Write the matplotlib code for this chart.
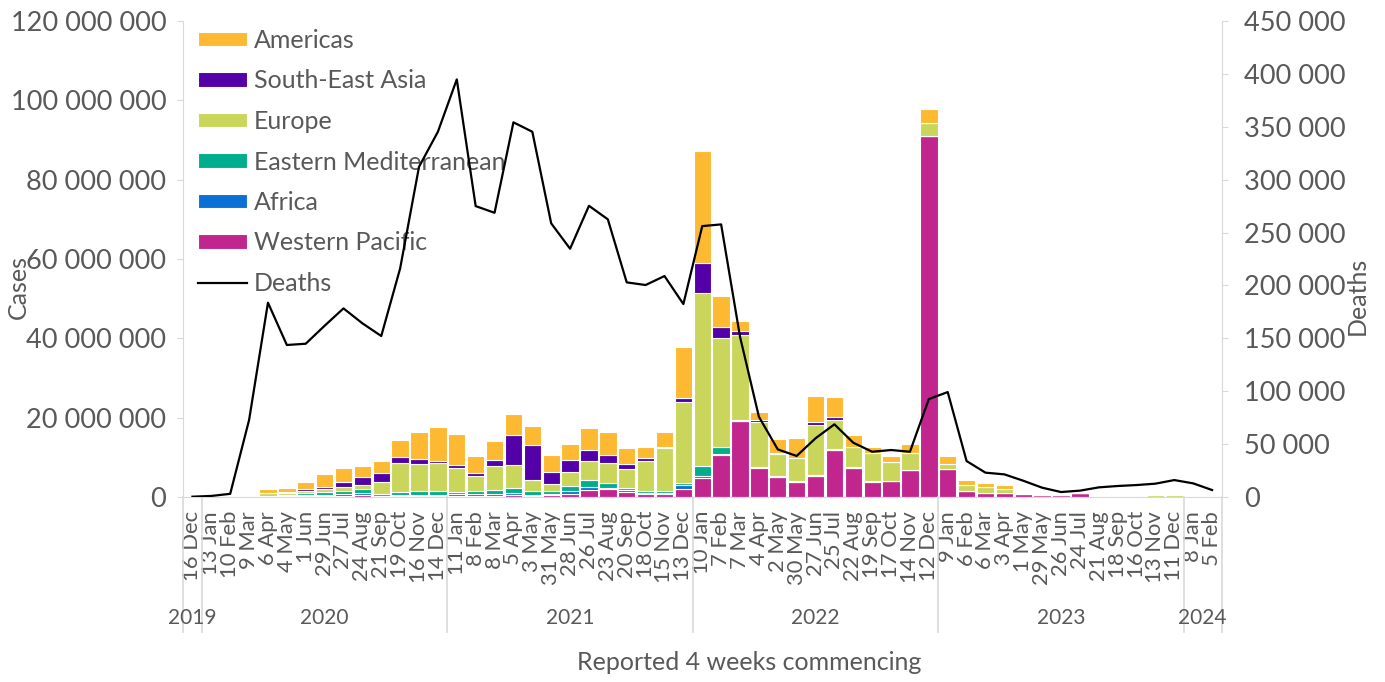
import matplotlib
matplotlib.use('Agg')
import matplotlib.pyplot as plt
import matplotlib.transforms as mtransforms
from matplotlib.lines import Line2D
import numpy as np

plt.rcParams['font.family'] = ['Lato', 'DejaVu Sans']

# 4-week periods, first level of the category axis
labels = ['16 Dec',
          '13 Jan', '10 Feb', '9 Mar', '6 Apr', '4 May', '1 Jun', '29 Jun', '27 Jul',
          '24 Aug', '21 Sep', '19 Oct', '16 Nov', '14 Dec',
          '11 Jan', '8 Feb', '8 Mar', '5 Apr', '3 May', '31 May', '28 Jun', '26 Jul',
          '23 Aug', '20 Sep', '18 Oct', '15 Nov', '13 Dec',
          '10 Jan', '7 Feb', '7 Mar', '4 Apr', '2 May', '30 May', '27 Jun', '25 Jul',
          '22 Aug', '19 Sep', '17 Oct', '14 Nov', '12 Dec',
          '9 Jan', '6 Feb', '6 Mar', '3 Apr', '1 May', '29 May', '26 Jun', '24 Jul',
          '21 Aug', '18 Sep', '16 Oct', '13 Nov', '11 Dec',
          '8 Jan', '5 Feb']
years = ['2019', '2020', '2021', '2022', '2023', '2024']
year_sizes = [1, 13, 13, 13, 13, 2]

# cases per region, millions
americas = [0, 0, 0, 0.02, 0.9, 1.0, 1.85, 3.1, 3.4, 2.85, 2.95, 4.3, 6.9, 8.5,
            7.8, 4.2, 4.7, 5.4, 4.6, 4.4, 4.0, 5.5, 5.8, 4.0, 2.6, 3.65, 12.7,
            28.25, 7.65, 2.6, 2.1, 3.65, 5.05, 6.55, 5.0, 2.9, 1.55, 1.45, 2.35, 3.45,
            1.9, 1.2, 0.9, 0.8, 0.1, 0.05, 0.05, 0.05, 0.05, 0.04, 0.04, 0.05, 0.05,
            0.03, 0.02]
south_east_asia = [0, 0, 0, 0, 0.05, 0.15, 0.4, 0.6, 1.3, 2.0, 2.3, 1.5, 1.25, 0.75,
                   0.8, 0.8, 1.5, 7.5, 8.95, 2.8, 2.9, 3.0, 2.25, 1.1, 0.8, 0.2, 1.0,
                   7.6, 2.85, 1.0, 0.4, 0.1, 0.1, 0.8, 0.8, 0.15, 0.1, 0.05, 0.05, 0.05,
                   0.05, 0.03, 0.03, 0.05, 0.03, 0.02, 0.01, 0.01, 0.01, 0.01, 0.01, 0.01,
                   0.01, 0.01, 0.01]
europe = [0, 0, 0, 0.25, 0.7, 0.6, 0.5, 0.8, 0.9, 1.05, 3.0, 7.3, 6.8, 7.0,
          6.0, 3.9, 6.05, 5.8, 2.8, 1.85, 3.6, 4.65, 4.95, 4.8, 7.6, 10.85, 20.5,
          43.7, 27.4, 21.4, 11.25, 5.6, 5.85, 12.65, 7.25, 5.05, 7.0, 4.65, 4.25, 3.35,
          1.25, 1.55, 1.45, 1.0, 0.1, 0.1, 0.05, 0.05, 0.1, 0.1, 0.15, 0.4, 0.45,
          0.1, 0.05]
eastern_med = [0, 0, 0, 0.05, 0.2, 0.3, 0.5, 0.6, 0.8, 0.8, 0.5, 0.9, 1.0, 0.9,
               0.6, 0.75, 1.1, 1.45, 0.9, 0.75, 1.2, 1.75, 1.2, 0.7, 0.5, 0.6, 0.4,
               2.35, 1.75, 0.2, 0.2, 0.15, 0.1, 0.25, 0.2, 0.15, 0.1, 0.05, 0.05, 0.05,
               0.05, 0.03, 0.02, 0.02, 0.02, 0.02, 0.02, 0.02, 0.02, 0.02, 0.02, 0.02,
               0.02, 0.02, 0.02]
africa = [0, 0, 0, 0.005, 0.05, 0.1, 0.3, 0.4, 0.6, 0.6, 0.15, 0.2, 0.3, 0.3,
          0.4, 0.35, 0.35, 0.5, 0.3, 0.4, 0.8, 0.7, 0.4, 0.35, 0.3, 0.3, 1.1,
          0.5, 0.3, 0.1, 0.1, 0.05, 0.05, 0.1, 0.1, 0.05, 0.05, 0.03, 0.02, 0.02,
          0.02, 0.01, 0.01, 0.01, 0.01, 0.01, 0.01, 0.01, 0.01, 0.01, 0.01, 0.01,
          0.01, 0.01, 0.01]
western_pacific = [0.001, 0.01, 0.07, 0.1, 0.1, 0.1, 0.2, 0.2, 0.2, 0.5, 0.1, 0.2, 0.2, 0.25,
                   0.3, 0.3, 0.3, 0.4, 0.25, 0.4, 0.8, 1.85, 1.9, 1.3, 0.7, 0.7, 2.05,
                   4.9, 10.6, 19.1, 7.35, 5.1, 3.8, 5.2, 11.75, 7.25, 3.9, 4.0, 6.7, 90.9,
                   7.0, 1.5, 1.0, 1.05, 0.8, 0.45, 0.45, 1.0, 0.35, 0.05, 0.05, 0.05,
                   0.05, 0.05, 0.02]

# deaths, thousands
deaths = [0.3, 1.0, 3.0, 72.8, 183.7, 143.7, 144.9, 161.9, 178.3, 164.2, 152.2, 216.1,
          312.2, 345.3, 394.8, 275.0, 268.7, 354.2, 345.3, 258.7, 234.7, 275.3, 262.5,
          202.9, 200.4, 208.9, 182.4, 256.1, 257.7, 151.5, 75.9, 45.0, 38.8, 55.5, 68.7,
          51.3, 42.8, 44.4, 42.8, 92.6, 99.2, 34.0, 23.0, 21.4, 15.4, 8.8, 4.7, 6.0, 9.1,
          10.4, 11.3, 12.6, 16.0, 12.9, 6.6]

TEXT = '#595959'
AXIS = '#D9D9D9'

# bottom to top
stack = [
    ('Western Pacific', western_pacific, '#C1268F'),
    ('Africa', africa, '#0B70D6'),
    ('Eastern Mediterranean', eastern_med, '#00AE8D'),
    ('Europe', europe, '#C9D65B'),
    ('South-East Asia', south_east_asia, '#5300A8'),
    ('Americas', americas, '#FDB931'),
]

W, H = 1385, 682
fig = plt.figure(figsize=(W / 100, H / 100), dpi=100)
x0, x1, y0, y1 = 183, 1221.5, 497, 21
ax = fig.add_axes([x0 / W, 1 - y0 / H, (x1 - x0) / W, (y0 - y1) / H])

x = np.arange(len(labels))
bottom = np.zeros(len(labels))
handles = {}
for name, vals, col in stack:
    v = np.array(vals) * 1e6
    handles[name] = ax.bar(x, v, bottom=bottom, width=0.92, color=col,
                           edgecolor='white', linewidth=0.8, label=name)
    bottom += v

ax.set_xlim(-0.5, len(labels) - 0.5)
ax.set_ylim(0, 120e6)
ax.set_yticks(np.arange(0, 120e6 + 1, 20e6))
ax.yaxis.set_major_formatter(lambda v, p: f'{int(v):,}'.replace(',', ' '))
ax.set_xticks(x)
ax.set_xticklabels(labels, rotation=90, fontsize=15.8, color=TEXT)
ax.tick_params(axis='x', length=0, pad=10)
ax.tick_params(axis='y', labelsize=19.5, labelcolor=TEXT, color=AXIS, length=4, pad=8)
for s in ['top', 'right']:
    ax.spines[s].set_visible(False)
for s in ['left', 'bottom']:
    ax.spines[s].set_color(AXIS)

# deaths on secondary axis
ax2 = ax.twinx()
line, = ax2.plot(x, np.array(deaths) * 1000, color='black', linewidth=1.6)
ax2.set_ylim(0, 450000)
ax2.set_yticks(np.arange(0, 450001, 50000))
ax2.yaxis.set_major_formatter(lambda v, p: f'{int(v):,}'.replace(',', ' '))
ax2.tick_params(axis='y', labelsize=19.5, labelcolor=TEXT, color=AXIS, length=4, pad=12)
for s in ['top', 'left', 'bottom']:
    ax2.spines[s].set_visible(False)
ax2.spines['right'].set_color(AXIS)

# second level of the category axis: years and dividers
trans = mtransforms.blended_transform_factory(ax.transData, ax.transAxes)
edges = np.concatenate([[0], np.cumsum(year_sizes)]) - 0.5
for e in edges:
    ax.plot([e, e], [0, -0.284], transform=trans, color=AXIS, linewidth=1.2, clip_on=False)
for yr, a, b in zip(years, edges[:-1], edges[1:]):
    ax.text((a + b) / 2, -0.254, yr, transform=trans, ha='center', va='center',
            fontsize=15, color=TEXT)

order = ['Americas', 'South-East Asia', 'Europe', 'Eastern Mediterranean', 'Africa',
         'Western Pacific']
leg_h = [handles[n] for n in order] + [Line2D([], [], color='black', linewidth=1.6)]
ax.legend(leg_h, order + ['Deaths'], loc='upper left',
          bbox_to_anchor=(198 / W, 1 - 29 / H), bbox_transform=fig.transFigure,
          frameon=False, fontsize=18, labelcolor=TEXT, borderpad=0, borderaxespad=0,
          handlelength=1.96, handleheight=0.52, handletextpad=0.28, labelspacing=0.7)

fig.text(18 / W, 1 - 287 / H, 'Cases', rotation=90, ha='center', va='center',
         fontsize=18, color=TEXT)
fig.text(1357 / W, 1 - 296 / H, 'Deaths', rotation=90, ha='center', va='center',
         fontsize=18, color=TEXT)
fig.text(749 / W, 1 - 663 / H, 'Reported 4 weeks commencing', ha='center', va='center',
         fontsize=18, color=TEXT)

fig.savefig('out.png', dpi=100, facecolor='white')
